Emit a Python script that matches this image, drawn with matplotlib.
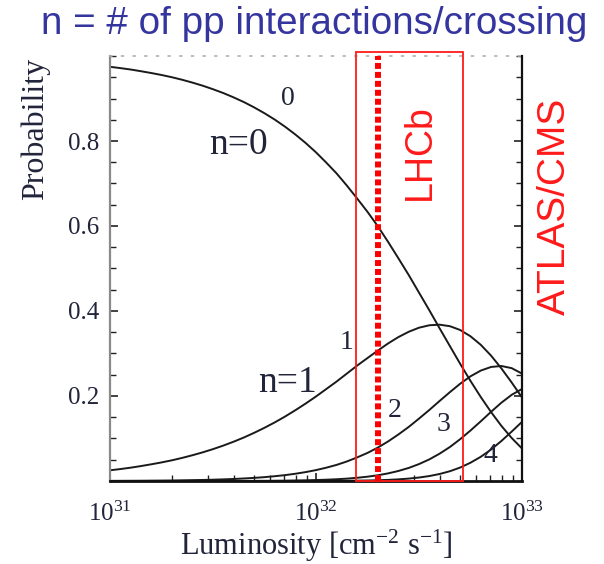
import matplotlib
matplotlib.use('Agg')
import matplotlib.pyplot as plt
from matplotlib.patches import Rectangle
from matplotlib.ticker import MultipleLocator, FixedLocator

# Luminosity points (cm^-2 s^-1) and probabilities
lum = [1.00e31, 1.12e31, 1.26e31, 1.41e31, 1.58e31, 1.78e31, 2.00e31, 2.24e31, 2.51e31, 2.82e31,
       3.16e31, 3.55e31, 3.98e31, 4.47e31, 5.01e31, 5.62e31, 6.31e31, 7.08e31, 7.94e31, 8.91e31,
       1.00e32, 1.12e32, 1.26e32, 1.41e32, 1.58e32, 1.78e32, 2.00e32, 2.24e32, 2.51e32, 2.82e32,
       3.16e32, 3.55e32, 3.98e32, 4.47e32, 5.01e32, 5.62e32, 6.31e32, 7.08e32, 7.94e32, 8.91e32,
       1.00e33]
p0 = [0.9746, 0.9716, 0.9682, 0.9643, 0.9601, 0.9553, 0.9500, 0.9441, 0.9375, 0.9301,
      0.9219, 0.9128, 0.9027, 0.8915, 0.8791, 0.8654, 0.8503, 0.8336, 0.8153, 0.7953,
      0.7733, 0.7495, 0.7235, 0.6955, 0.6654, 0.6331, 0.5988, 0.5625, 0.5243, 0.4846,
      0.4436, 0.4017, 0.3594, 0.3172, 0.2758, 0.2357, 0.1975, 0.1621, 0.1298, 0.1012,
      0.0765]
p1 = [0.0251, 0.0280, 0.0313, 0.0350, 0.0391, 0.0437, 0.0487, 0.0543, 0.0605, 0.0674,
      0.0749, 0.0833, 0.0924, 0.1024, 0.1133, 0.1251, 0.1379, 0.1517, 0.1665, 0.1822,
      0.1988, 0.2161, 0.2341, 0.2525, 0.2711, 0.2894, 0.3071, 0.3237, 0.3385, 0.3511,
      0.3606, 0.3664, 0.3678, 0.3642, 0.3553, 0.3406, 0.3204, 0.2949, 0.2650, 0.2318,
      0.1966]
p2 = [0.0003, 0.0004, 0.0005, 0.0006, 0.0008, 0.0010, 0.0012, 0.0016, 0.0020, 0.0024,
      0.0030, 0.0038, 0.0047, 0.0059, 0.0073, 0.0090, 0.0112, 0.0138, 0.0170, 0.0209,
      0.0256, 0.0312, 0.0379, 0.0458, 0.0552, 0.0661, 0.0788, 0.0931, 0.1093, 0.1272,
      0.1466, 0.1671, 0.1882, 0.2091, 0.2288, 0.2462, 0.2598, 0.2683, 0.2706, 0.2655,
      0.2527]
p3 = [0.0000, 0.0000, 0.0000, 0.0000, 0.0000, 0.0000, 0.0000, 0.0000, 0.0000, 0.0001,
      0.0001, 0.0001, 0.0002, 0.0002, 0.0003, 0.0004, 0.0006, 0.0008, 0.0012, 0.0016,
      0.0022, 0.0030, 0.0041, 0.0055, 0.0075, 0.0101, 0.0135, 0.0179, 0.0235, 0.0307,
      0.0397, 0.0508, 0.0642, 0.0800, 0.0983, 0.1186, 0.1404, 0.1628, 0.1841, 0.2027,
      0.2165]
p4 = [0.0000, 0.0000, 0.0000, 0.0000, 0.0000, 0.0000, 0.0000, 0.0000, 0.0000, 0.0000,
      0.0000, 0.0000, 0.0000, 0.0000, 0.0000, 0.0000, 0.0000, 0.0000, 0.0001, 0.0001,
      0.0001, 0.0002, 0.0003, 0.0005, 0.0008, 0.0012, 0.0017, 0.0026, 0.0038, 0.0056,
      0.0081, 0.0116, 0.0164, 0.0230, 0.0316, 0.0429, 0.0569, 0.0740, 0.0940, 0.1161,
      0.1391]

# LHCb operating range and nominal point
lhcb_lo, lhcb_hi = 1.56e32, 5.2e32
lhcb_nominal = 2.0e32

plt.rcParams['font.family'] = ['Liberation Serif', 'DejaVu Serif']
plt.rcParams['mathtext.fontset'] = 'custom'
plt.rcParams['mathtext.rm'] = 'Liberation Serif'
plt.rcParams['mathtext.it'] = 'Liberation Serif:italic'

txt = '#22243a'
fig = plt.figure(figsize=(6.04, 5.64), dpi=100)
ax = fig.add_axes([0.1821, 0.1472, 0.6821, 0.7535])

for p in [p0, p1, p2, p3, p4]:
    ax.plot(lum, p, color='#1a1a1a', lw=1.4)

ax.set_xscale('log')
ax.set_xlim(1e31, 1e33)
ax.set_ylim(0, 1.0)

# red LHCb box + dashed nominal line
ax.add_patch(Rectangle((lhcb_lo, 0), lhcb_hi - lhcb_lo, 1.009, fill=False,
                       ec='#ff1a1a', lw=1.3, clip_on=False, zorder=5))
ax.plot([lhcb_nominal, lhcb_nominal], [0, 0.999], color='#ff0000', lw=4.3,
        ls=(0, (1.0, 0.5)), solid_capstyle='butt', dash_capstyle='butt', zorder=6)

ax.text(3.2e32, 0.775, 'LHCb', rotation=90, color='#ff1a1a', fontsize=27,
        family='Liberation Sans', ha='center', va='center')
ax.text(1.08, 0.646, 'ATLAS/CMS', rotation=90, color='#ff1a1a', fontsize=28,
        family='Liberation Sans', ha='center', va='center', transform=ax.transAxes)

# curve labels
ax.text(7.3e31, 0.899, '0', fontsize=20, color=txt, ha='center', va='center')
ax.text(4.2e31, 0.792, 'n=0', fontsize=27, color=txt, ha='center', va='center')
ax.text(1.41e32, 0.325, '1', fontsize=20, color=txt, ha='center', va='center')
ax.text(7.3e31, 0.231, 'n=1', fontsize=27, color=txt, ha='center', va='center')
ax.text(2.42e32, 0.167, '2', fontsize=20, color=txt, ha='center', va='center')
ax.text(4.14e32, 0.132, '3', fontsize=20, color=txt, ha='center', va='center')
ax.text(7.0e32, 0.061, '4', fontsize=20, color=txt, ha='center', va='center')

# axes styling
ax.yaxis.set_major_locator(FixedLocator([0.2, 0.4, 0.6, 0.8]))
ax.yaxis.set_minor_locator(MultipleLocator(0.05))
ax.tick_params(which='both', direction='in', top=True, right=True, colors='#222222',
               labelcolor=txt, labelsize=18)
ax.tick_params(which='major', length=6, width=1.2)
ax.tick_params(which='minor', length=4, width=1.0)
ax.tick_params(axis='x', which='major', pad=15)
ax.tick_params(axis='y', which='major', pad=8)
ax.tick_params(axis='x', which='both', top=False)

ax.spines['left'].set_color('#8a8a8a')
ax.spines['left'].set_linewidth(1.6)
ax.spines['bottom'].set_color('#111111')
ax.spines['bottom'].set_linewidth(2.0)
ax.spines['right'].set_color('#111111')
ax.spines['right'].set_linewidth(1.6)
ax.spines['top'].set_color('#b0b0b0')
ax.spines['top'].set_linestyle((0, (1, 6)))
ax.spines['top'].set_linewidth(1.2)

ax.set_xlabel('Luminosity [cm$^{-2}$ s$^{-1}$]', fontsize=22, color=txt, labelpad=1)
ax.text(-0.182, 0.828, 'Probability', rotation=90, fontsize=23, color=txt,
        ha='center', va='center', transform=ax.transAxes)

fig.text(0.52, 0.958, 'n = # of pp interactions/crossing', color='#3535a0',
         fontsize=27.8, family='Liberation Sans', ha='center', va='center')

fig.savefig('out.png', dpi=100)
